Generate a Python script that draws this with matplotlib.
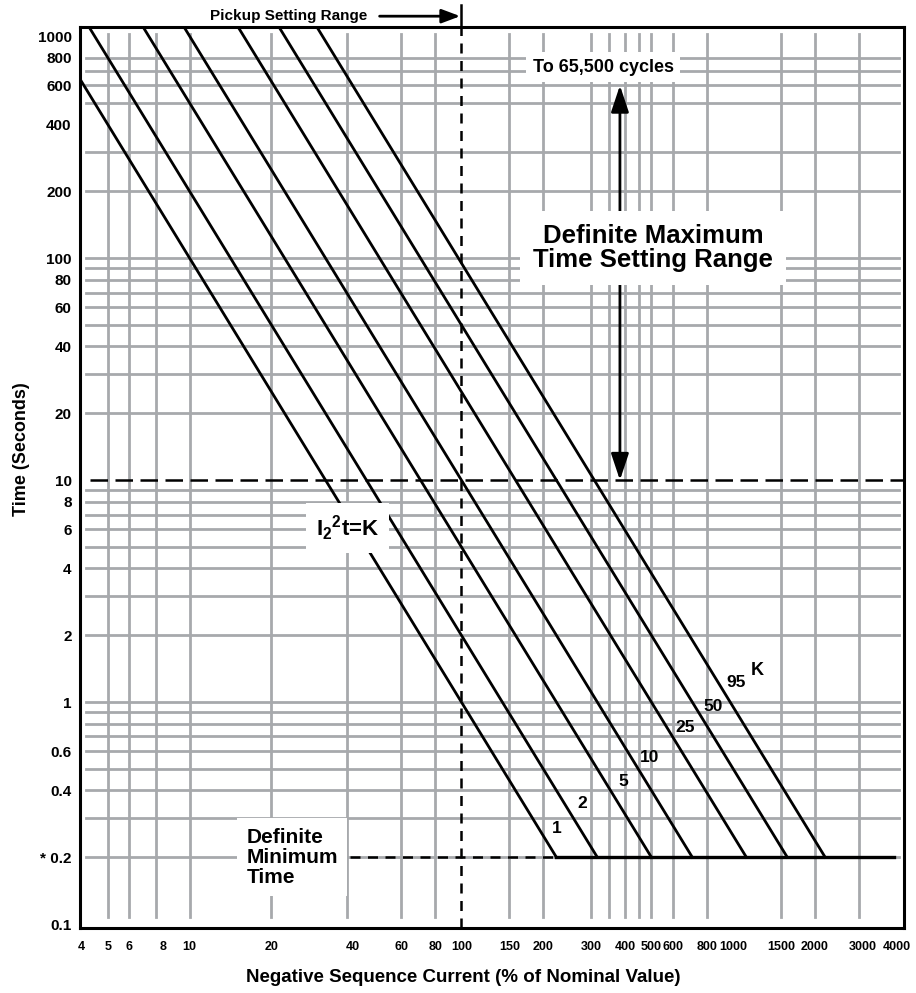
import numpy as np
import matplotlib.pyplot as plt
from matplotlib.ticker import NullLocator

plt.rcParams['font.family'] = ['Liberation Sans', 'DejaVu Sans']
plt.rcParams['font.weight'] = 'bold'
plt.rcParams['axes.labelweight'] = 'bold'
plt.rcParams['mathtext.fontset'] = 'custom'
plt.rcParams['mathtext.rm'] = 'Liberation Sans:bold'
plt.rcParams['mathtext.bf'] = 'Liberation Sans:bold'
plt.rcParams['mathtext.it'] = 'Liberation Sans:bold'

# Curvas I2^2 t = K (corriente en % del nominal)
k_values = [1, 2, 5, 10, 25, 50, 95]
k_labels = ["1", "2", "5", "10", "25", "50", "95"]
k_label_t = [0.27, 0.35, 0.44, 0.56, 0.77, 0.96, 1.22]   # altura de cada etiqueta
nominal = 100            # pickup / valor nominal
t_min = 0.2              # tiempo minimo definido
t_max_low = 10           # rango de tiempo maximo: de 10 s ...
t_max_high = 600         # ... hasta la caja "To 65,500 cycles"
min_dash_start = 39      # inicio de la linea punteada de 0.2 s
min_line_end = 3900      # fin de la linea de 0.2 s
arrow_current = 383      # posicion de la flecha doble

x_ticks = [4, 5, 6, 8, 10, 20, 40, 60, 80, 100, 150, 200, 300, 400, 500, 600,
           800, 1000, 1500, 2000, 3000, 4000]
y_ticks = [0.1, 0.2, 0.4, 0.6, 1, 2, 4, 6, 8, 10, 20, 40, 60, 80, 100, 200,
           400, 600, 800, 1000]
y_tick_labels = ["0.1", "* 0.2", "0.4", "0.6", "1", "2", "4", "6", "8", "10",
                 "20", "40", "60", "80", "100", "200", "400", "600", "800", "1000"]

# Lineas de la cuadricula (no siguen exactamente los ticks)
x_grid = [5, 6, 7.5, 10, 20, 38, 60, 80, 150, 200, 300, 350, 400, 450, 500,
          600, 800, 1500, 2000, 2900]
y_grid = [0.2, 0.3, 0.4, 0.5, 0.6, 0.7, 0.8, 0.9,
          1, 2, 3, 4, 5, 6, 7, 8, 9,
          20, 30, 40, 50, 60, 70, 80, 90,
          100, 200, 300, 500, 600, 700, 800]

grid_color = '#a7a9ac'

fig = plt.figure(figsize=(9.16, 9.93), dpi=100)
ax = fig.add_axes([80 / 916, 1 - 928 / 993, 824 / 916, 901 / 993])
ax.set_xscale('log')
ax.set_yscale('log')
ax.set_xlim(3.95, 4250)
ax.set_ylim(0.096, 1100)

# Cuadricula
for x in x_grid:
    ax.axvline(x, ymin=0.012, ymax=0.992, color=grid_color, lw=2, zorder=1)
for y in y_grid:
    ax.axhline(y, xmin=0.007, xmax=0.994, color=grid_color, lw=2, zorder=1)

# Curvas de K
i_end = {}
for k, lbl, tl in zip(k_values, k_labels, k_label_t):
    i_low = 1.0
    i_end[k] = nominal * np.sqrt(k / t_min)
    ax.plot([i_low, i_end[k]], [k * (nominal / i_low) ** 2, t_min],
            color='black', lw=2, zorder=3)
    ax.annotate(lbl, xy=(nominal * np.sqrt(k / tl), tl), xytext=(13, 0),
                textcoords='offset points', ha='center', va='center',
                fontsize=12.5, zorder=5)
ax.annotate("K", xy=(nominal * np.sqrt(k_values[-1] / k_label_t[-1]), k_label_t[-1]),
            xytext=(28, 9), textcoords='offset points', ha='center', va='center',
            fontsize=13, zorder=5)

# Tiempo minimo definido
ax.plot([i_end[k_values[0]], min_line_end], [t_min, t_min], color='black', lw=2.4, zorder=3)
ax.plot([min_dash_start, i_end[k_values[0]]], [t_min, t_min], color='black', lw=1.8,
        linestyle=(0, (4, 3)), zorder=3)

# Linea de pickup (100 %)
ax.axvline(nominal, color='black', lw=1.8, linestyle=(0, (4, 3)), zorder=3)
ax.plot([nominal, nominal], [1.0, 1.024], transform=ax.get_xaxis_transform(),
        color='black', lw=1.8, clip_on=False, zorder=3)
ax.axhline(t_max_low, xmin=0.012, xmax=1.0, color='black', lw=1.8,
           linestyle=(0, (7, 3)), zorder=3)

ax.text(45, 1.012, "Pickup Setting Range", transform=ax.get_xaxis_transform(),
        ha='right', va='center', fontsize=11)
ax.annotate("", xy=(99, 1.012), xytext=(50, 1.012), xycoords=ax.get_xaxis_transform(),
            textcoords=ax.get_xaxis_transform(), annotation_clip=False,
            arrowprops=dict(arrowstyle='-|>,head_length=0.8,head_width=0.3', lw=2,
                            color='black', shrinkA=0, shrinkB=0, mutation_scale=14))

# Flecha del rango de tiempo maximo
ax.annotate("", xy=(arrow_current, t_max_high), xytext=(arrow_current, t_max_low),
            arrowprops=dict(arrowstyle='<|-|>,head_length=0.9,head_width=0.3', lw=2,
                            color='black', shrinkA=0, shrinkB=0, mutation_scale=18),
            zorder=3)

box = dict(boxstyle='square,pad=0.35', facecolor='white', edgecolor='none')
ax.text(332, 725, "To 65,500 cycles", ha='center', va='center', fontsize=13,
        bbox=box, zorder=4)
ax.text(508, 111, "Definite Maximum\nTime Setting Range", ha='center', va='center',
        fontsize=18.5, linespacing=1.0,
        bbox=dict(boxstyle='square,pad=0.5', facecolor='white', edgecolor='none'), zorder=4)
ax.text(38, 6.1, r'I$_2{}^2$t=K', ha='center', va='center', fontsize=16,
        bbox=dict(boxstyle='square,pad=0.45', facecolor='white', edgecolor='none'), zorder=4)
ax.text(16.2, t_min, "Definite\nMinimum\nTime", ha='left', va='center', fontsize=15,
        linespacing=1.08,
        bbox=dict(boxstyle='square,pad=0.45', facecolor='white', edgecolor='none'), zorder=4)

# Ejes
ax.xaxis.set_minor_locator(NullLocator())
ax.yaxis.set_minor_locator(NullLocator())
ax.set_xticks(x_ticks, labels=[str(x) for x in x_ticks])
ax.set_yticks(y_ticks, labels=y_tick_labels)
ax.tick_params(axis='both', which='both', length=0)
ax.tick_params(axis='x', labelsize=9, pad=9)
ax.tick_params(axis='y', labelsize=11, pad=6)
for s in ax.spines.values():
    s.set_linewidth(2.2)
    s.set_zorder(6)

ax.set_xlabel("Negative Sequence Current (% of Nominal Value)", fontsize=13.5,
              fontweight='bold')
ax.set_ylabel("Time (Seconds)", fontsize=13, fontweight='bold')
ax.xaxis.set_label_coords(0.465, -0.0455)
ax.yaxis.set_label_coords(-0.061, 0.532)

fig.savefig("out.png", dpi=100)
